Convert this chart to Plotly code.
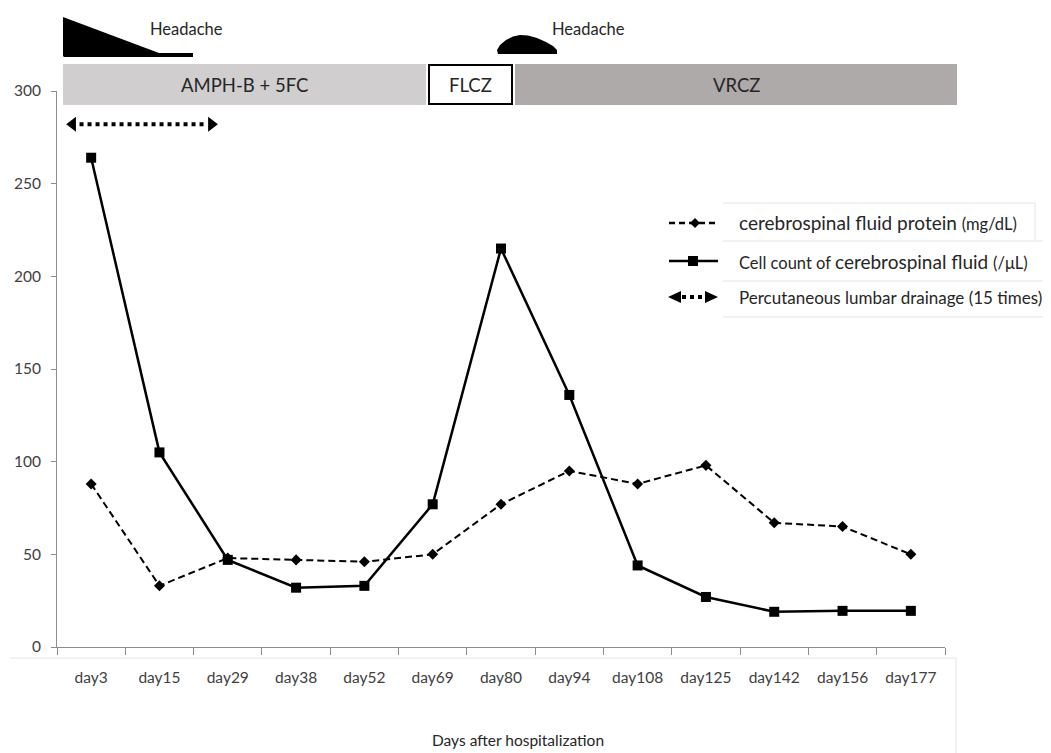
import plotly.graph_objects as go

# ---- data ----
days = ["day3", "day15", "day29", "day38", "day52", "day69", "day80",
        "day94", "day108", "day125", "day142", "day156", "day177"]
protein = [88, 33, 48, 47, 46, 50, 77, 95, 88, 98, 67, 65, 50]
cell_count = [264, 105, 47, 32, 33, 77, 215, 136, 44, 27, 19, 19.5, 19.5]
y_ticks = [0, 50, 100, 150, 200, 250, 300]
drainage_span = [-0.37, 1.86]   # category-index span of lumbar drainage
drainage_level = 282

x_idx = list(range(len(days)))

FONT = "Lato"
TXT = "#404040"
AX = "#8c8c8c"

# page offset (browser body margin)
OFF = 8
W, H = 1051, 753
# target plot area in page pixels
L, R, T, B = 57, 945, 91, 647
def px(x):
    return (x - L) / (R - L)
def py(y):
    return (B - y) / (B - T)
def path(pts):
    return "M " + " L ".join(f"{px(a):.5f},{py(b):.5f}" for a, b in pts) + " Z"

fig = go.Figure()

fig.add_trace(go.Scatter(
    x=x_idx, y=protein, mode="lines+markers", name="protein",
    line=dict(color="black", width=2, dash="7px,4px"),
    marker=dict(symbol="diamond", size=8.5, color="black"),
    showlegend=False))
fig.add_trace(go.Scatter(
    x=x_idx, y=cell_count, mode="lines+markers", name="cell count",
    line=dict(color="black", width=2.5),
    marker=dict(symbol="square", size=10, color="black"),
    showlegend=False))

# drainage arrow
fig.add_trace(go.Scatter(
    x=[drainage_span[0] + 0.2, drainage_span[1] - 0.19],
    y=[drainage_level, drainage_level], mode="lines",
    line=dict(color="black", width=4, dash="dot"), showlegend=False,
    hoverinfo="skip"))
fig.add_trace(go.Scatter(
    x=[drainage_span[0] + 0.1, drainage_span[1] - 0.1],
    y=[drainage_level, drainage_level], mode="markers",
    marker=dict(symbol=["triangle-left", "triangle-right"], size=13, color="black"),
    showlegend=False, hoverinfo="skip"))

shapes = []
annotations = []

# treatment bars
shapes.append(dict(type="rect", xref="paper", yref="paper", x0=px(63), x1=px(426),
                   y0=py(105), y1=py(64), fillcolor="#d0cece", line=dict(width=0), layer="below"))
shapes.append(dict(type="rect", xref="paper", yref="paper", x0=px(429), x1=px(512),
                   y0=py(104), y1=py(65), fillcolor="white", line=dict(width=2, color="black")))
shapes.append(dict(type="rect", xref="paper", yref="paper", x0=px(515), x1=px(957),
                   y0=py(105), y1=py(64), fillcolor="#aeaaaa", line=dict(width=0), layer="below"))
for txt, xc in [("AMPH-B + 5FC", 244.5), ("FLCZ", 470.5), ("VRCZ", 736)]:
    annotations.append(dict(text=txt, x=px(xc), y=py(85), xref="paper", yref="paper",
                            showarrow=False, font=dict(family=FONT, size=18.5, color="#262626"),
                            xanchor="center", yanchor="middle"))

# headache shapes
shapes.append(dict(type="path", xref="paper", yref="paper", fillcolor="black",
                   line=dict(width=0),
                   path=path([(63, 17), (159, 53), (193, 53), (193, 57), (64, 57), (63, 56)])))
bump = [(498, 54), (497, 50), (500, 45), (506, 40), (513, 36.5), (520, 35), (528, 35.5),
        (537, 38), (546, 42), (553, 46), (557, 50), (557, 54)]
shapes.append(dict(type="path", xref="paper", yref="paper", fillcolor="black",
                   line=dict(width=0), path=path(bump)))
for xl in [148, 550]:
    annotations.append(dict(text="Headache", x=px(xl), y=py(29), xref="paper", yref="paper",
                            showarrow=False, font=dict(family=FONT, size=16.5, color="#262626"),
                            xanchor="left", yanchor="middle"))

# legend (manual)
ly = [223, 261, 297]
shapes.append(dict(type="line", xref="paper", yref="paper", x0=px(669), x1=px(718),
                   y0=py(ly[0]), y1=py(ly[0]), line=dict(color="black", width=2.5, dash="6px,4px")))
shapes.append(dict(type="path", xref="paper", yref="paper", fillcolor="black", line=dict(width=0),
                   path=path([(695, ly[0] - 5), (700, ly[0]), (695, ly[0] + 5), (690, ly[0])])))
shapes.append(dict(type="line", xref="paper", yref="paper", x0=px(669), x1=px(718),
                   y0=py(ly[1]), y1=py(ly[1]), line=dict(color="black", width=2.5)))
shapes.append(dict(type="rect", xref="paper", yref="paper", x0=px(688), x1=px(698),
                   y0=py(ly[1] + 5), y1=py(ly[1] - 5), fillcolor="black", line=dict(width=0)))
shapes.append(dict(type="line", xref="paper", yref="paper", x0=px(682), x1=px(705),
                   y0=py(ly[2]), y1=py(ly[2]), line=dict(color="black", width=4, dash="dot")))
shapes.append(dict(type="path", xref="paper", yref="paper", fillcolor="black", line=dict(width=0),
                   path=path([(668, ly[2]), (681, ly[2] - 6), (681, ly[2] + 6)])))
shapes.append(dict(type="path", xref="paper", yref="paper", fillcolor="black", line=dict(width=0),
                   path=path([(718, ly[2]), (705, ly[2] - 6), (705, ly[2] + 6)])))

leg_txt = [
    "cerebrospinal fluid protein <span style='font-size:16.5px'>(mg/dL)</span>",
    "<span style='font-size:16.5px'>Cell count of </span>cerebrospinal fluid <span style='font-size:16.5px'>(/μL)</span>",
    "<span style='font-size:17px'>Percutaneous lumbar drainage (15 times)</span>",
]
for t, yy in zip(leg_txt, ly):
    annotations.append(dict(text=t, x=px(737), y=py(yy), xref="paper", yref="paper",
                            showarrow=False, font=dict(family=FONT, size=19, color="#262626"),
                            xanchor="left", yanchor="middle"))

# faint frame artifacts
faint = dict(color="#e4e4e4", width=1)
for (x0, y0, x1, y1) in [(723, 203, 1035, 203), (1035, 203, 1035, 241), (723, 241, 1051, 241),
                         (723, 281, 1051, 281), (723, 317, 1051, 317),
                         (10, 658, 956, 658), (956, 658, 956, 753)]:
    shapes.append(dict(type="line", xref="paper", yref="paper", x0=px(x0), x1=px(x1),
                       y0=py(y0), y1=py(y1), line=faint, layer="below"))

# x-axis title
annotations.append(dict(text="Days after hospitalization", x=px(518), y=py(740),
                        xref="paper", yref="paper", showarrow=False,
                        font=dict(family=FONT, size=15.5, color="#262626"),
                        xanchor="center", yanchor="middle"))

fig.update_layout(
    width=W - OFF, height=H - OFF,
    margin=dict(l=L - OFF, r=W - R, t=T - OFF, b=H - B, pad=0, autoexpand=False),
    paper_bgcolor="white", plot_bgcolor="white",
    font=dict(family=FONT, color=TXT),
    shapes=shapes, annotations=annotations,
    xaxis=dict(range=[-0.5, len(days) - 0.5], tickmode="array", tickvals=x_idx, ticktext=days,
               ticks="outside", ticklen=16, tickcolor="rgba(0,0,0,0)", automargin=False,
               tickfont=dict(family=FONT, size=15.5, color=TXT),
               showline=True, linecolor=AX, linewidth=1, showgrid=False, zeroline=False,
               minor=dict(tick0=-0.5, dtick=1, ticks="outside", ticklen=7, tickcolor=AX,
                          showgrid=False)),
    yaxis=dict(range=[0, 300], tickmode="array", tickvals=y_ticks, automargin=False,
               ticks="outside", ticklen=5, tickcolor=AX,
               tickfont=dict(family=FONT, size=15.5, color=TXT), ticklabelstandoff=7,
               showline=True, linecolor=AX, linewidth=1, showgrid=False, zeroline=False),
)

fig.write_html("out.html")
